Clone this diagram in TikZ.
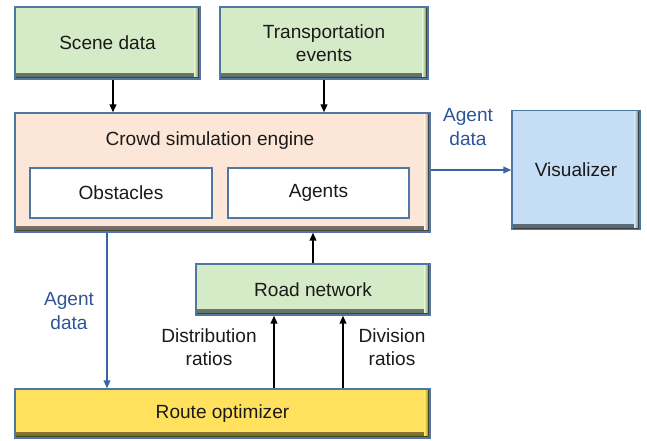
\documentclass[tikz,border=0pt]{standalone}
\usepackage{fontspec}
\setmainfont{Liberation Sans}
\usetikzlibrary{arrows.meta}

\definecolor{greenfill}{HTML}{D5EAC6}
\definecolor{peachfill}{HTML}{FCE6D7}
\definecolor{bluefill}{HTML}{C6DEF5}
\definecolor{yellowfill}{HTML}{FFE15E}
\definecolor{edgeblue}{HTML}{4F77A6}
\definecolor{labelblue}{HTML}{2F5597}
\definecolor{flowblue}{HTML}{3A62A6}
\definecolor{textdark}{HTML}{1A1A1A}

\begin{document}
\begin{tikzpicture}[x=0.75pt,y=-0.75pt,
  txt/.style={font=\fontsize{14.3}{17.5}\selectfont, align=center, text=textdark},
  size/.style 2 args={minimum width=#1*0.75pt, minimum height=#2*0.75pt},
  box/.style={txt, draw=edgeblue, line width=1pt, inner sep=0pt},
  % raised box: shaded strips along the lower and right edges
  raised/.style={box, fill=#1, path picture={
      \shade[top color=#1, bottom color=black!55!#1]
        ([yshift=4pt]path picture bounding box.south west) rectangle (path picture bounding box.south east);
      \shade[left color=#1, right color=black!55!#1]
        ([xshift=-4pt]path picture bounding box.north east) rectangle (path picture bounding box.south east);
      \draw[black!70!#1, line width=1.2pt]
        ([yshift=0.6pt]path picture bounding box.south west) -- ([xshift=-0.6pt,yshift=0.6pt]path picture bounding box.south east)
        -- ([xshift=-0.6pt]path picture bounding box.north east);
    }},
  inner/.style={box, fill=white, line width=0.9pt},
  arr/.style={line width=1.4pt, -{Triangle[length=6pt,width=5pt]}},
  bluearr/.style={line width=1.3pt, draw=flowblue, -{Triangle[length=6pt,width=5pt]}, color=flowblue},
  bluelabel/.style={txt, text=labelblue, inner sep=0pt},
  blacklabel/.style={txt, inner sep=0pt}
]
\useasboundingbox (0,0) rectangle (647,441);

% input boxes
\node[raised=greenfill, size={185}{72}] (scene) at (107.5,43) {Scene data};
\node[raised=greenfill, size={208}{72}] (transport) at (324,43) {Transportation\\events};

% simulation engine with its two components
\node[raised=peachfill, size={415}{119}] (engine) at (222.5,172.5) {};
\node[txt, inner sep=0pt] (enginetitle) at (210,141) {Crowd simulation engine};
\node[inner, size={182}{50}] (obstacles) at (121,193) {Obstacles};
\node[inner, size={181}{50}] (agents) at (318.5,193) {Agents};

% outputs and routing
\node[raised=bluefill, size={128}{119}] (visualizer) at (576,170) {Visualizer};
\node[raised=greenfill, size={234}{51}] (road) at (313,289.5) {Road network};
\node[raised=yellowfill, size={415}{49}] (route) at (222.5,413.5) {Route optimizer};

% inputs into the engine
\coordinate (s1) at ([xshift=5.5*0.75pt]scene.south);
\draw[arr] (s1) -- (s1 |- engine.north);
\draw[arr] (transport.south) -- (transport.south |- engine.north);

% engine to visualizer
\coordinate (v1) at (engine.east |- 0,170);
\draw[bluearr] (v1) -- (v1 -| visualizer.west);
\node[bluelabel] (agentdata1) at (468,127) {Agent\\data};

% engine to route optimizer
\coordinate (d1) at (engine.south -| 107,0);
\draw[bluearr] (d1) -- (d1 |- route.north);
\node[bluelabel] (agentdata2) at (69,311) {Agent\\data};

% road network into engine
\draw[arr] (road.north) -- (road.north |- engine.south);

% route optimizer into road network
\coordinate (r1) at (route.north -| 274,0);
\coordinate (r2) at (route.north -| 343,0);
\draw[arr] (r1) -- (r1 |- road.south);
\draw[arr] (r2) -- (r2 |- road.south);
\node[blacklabel] (distlabel) at (209,347) {Distribution\\ratios};
\node[blacklabel] (divlabel) at (392,347) {Division\\ratios};
\end{tikzpicture}
\end{document}
